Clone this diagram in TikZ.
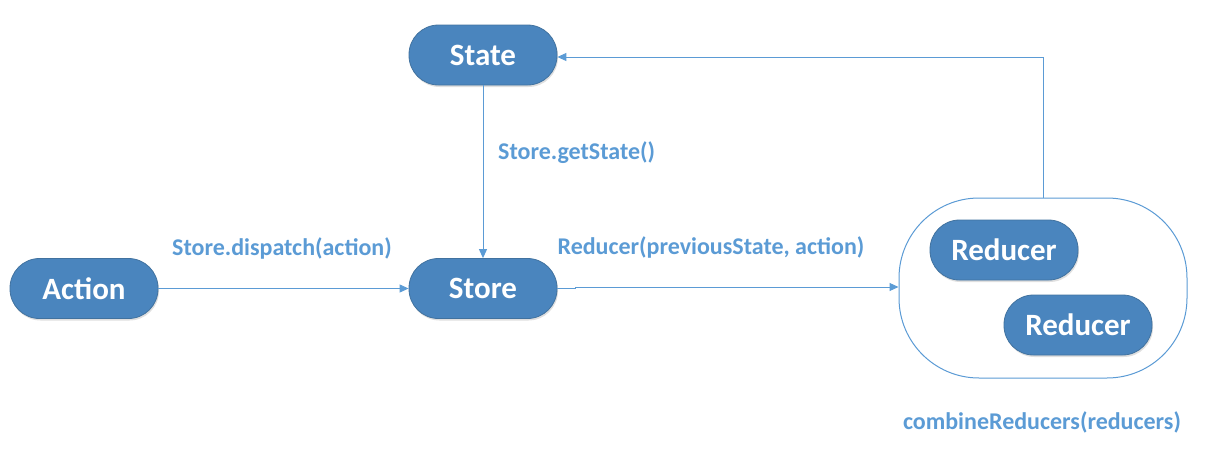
\documentclass[tikz,border=0pt]{standalone}
\usepackage{fontspec}
\setmainfont{Carlito}
\usetikzlibrary{shadows,arrows.meta}
\definecolor{nodeblue}{HTML}{4A85BE}
\definecolor{nodeedge}{HTML}{41729F}
\definecolor{lineblue}{HTML}{5B9BD5}
\definecolor{labelblue}{HTML}{5B9BD5}
\begin{document}
\begin{tikzpicture}[x=1pt,y=-1pt,
  pill/.style={rectangle, draw=nodeedge, line width=0.8pt, fill=nodeblue,
    text=white, font=\bfseries\fontsize{31}{34}\selectfont,
    minimum width=148pt, minimum height=60pt, rounded corners=29.5pt,
    drop shadow={shadow xshift=1pt, shadow yshift=-2pt, opacity=0.25}},
  lbl/.style={text=labelblue, font=\bfseries\fontsize{24}{28}\selectfont, inner sep=0pt},
  conn/.style={draw=lineblue, line width=1pt, -{Triangle[length=9pt,width=8pt]}}
]
\useasboundingbox (0,0) rectangle (1216,458);
\node[pill] (state) at (483,55) {State};
\node[pill] (action) at (84,288.5) {Action};
\node[pill] (store) at (483,288.5) {Store};
\node[draw=lineblue, line width=1pt, fill=white, minimum width=288pt, minimum height=180pt,
  rounded corners=80pt, inner sep=0pt] (group) at (1043,288) {};
\node[pill] (red1) at (1004,250) {Reducer};
\node[pill] (red2) at (1078,325) {Reducer};
\node[lbl, anchor=west] (lget) at (498,153) {Store.getState()};
\node[lbl] (ldisp) at (282,248) {Store.dispatch(action)};
\node[lbl] (lred) at (711,247) {Reducer(previousState, action)};
\node[lbl] (lcomb) at (1042,422) {combineReducers(reducers)};
\coordinate (jog) at (575,287);
\draw[conn] (state.south) -- (store.north);
\draw[conn] (action.east) -- (store.west);
\draw[conn] (store.east) -- (575,288.5) -- (jog) -- (group.west |- jog);
\coordinate (top) at (group.north);
\draw[conn] (top) -- (top |- 0,57) -- (state.east |- 0,57);
\end{tikzpicture}
\end{document}
